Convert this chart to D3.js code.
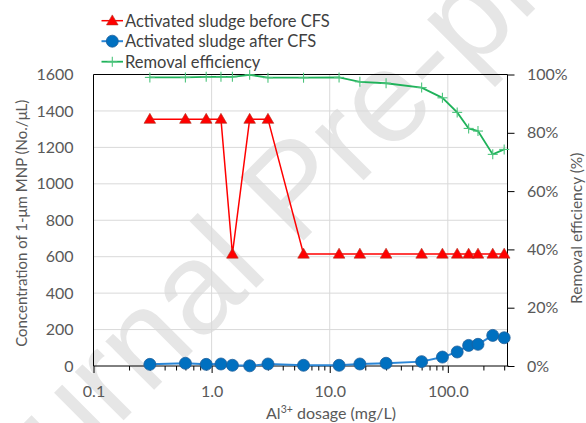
<!DOCTYPE html>
<html>
<head>
<meta charset="utf-8">
<script src="https://cdn.jsdelivr.net/npm/d3@7"></script>
<style>
  body { margin: 0; background: #fff; }
  svg { display: block; }
  text { font-family: Lato, "Open Sans", sans-serif; }
</style>
</head>
<body>
<svg id="chart" width="586" height="423"></svg>
<script>
// Al3+ dosage (mg/L)
const dosage = [0.3, 0.6, 0.9, 1.2, 1.5, 2.1, 3, 6, 12, 18, 30, 60, 90, 120, 150, 180, 240, 300];
// 1-µm MNP concentration (No./µL)
const beforeCFS = [1355, 1355, 1355, 1355, 615, 1355, 1355, 615, 615, 615, 615, 615, 615, 615, 615, 615, 615, 615];
const afterCFS = [9, 15, 9, 11, 4, 1, 11, 4, 4, 11, 15, 24, 49, 77, 113, 119, 168, 155];
// Removal efficiency (%)
const efficiency = [99.0, 99.0, 99.2, 99.2, 99.2, 99.9, 98.9, 98.9, 99.0, 97.5, 97.0, 95.5, 92.0, 87.0, 81.5, 80.6, 72.6, 74.3];

const xMajorTicks = [0.1, 1, 10, 100];
const xMinorTicks = [0.2,0.3,0.4,0.5,0.6,0.7,0.8,0.9, 2,3,4,5,6,7,8,9, 20,30,40,50,60,70,80,90, 200,300];
const yLeftTicks = [0, 200, 400, 600, 800, 1000, 1200, 1400, 1600];
const yRightTicks = [0, 20, 40, 60, 80, 100];

const legendLabels = ["Activated sludge before CFS", "Activated sludge after CFS", "Removal efficiency"];

const COL_RED = "#ff0000", COL_BLUE = "#0070c0", COL_BLUELINE = "#2a86d6", COL_GREEN = "#1fb25a";
const TXT = "#595959";

const svg = d3.select("#chart");
const plot = { left: 93.5, right: 507.5, top: 74.5, bottom: 366 };

const x = d3.scaleLog().domain([0.1, 320]).range([plot.left, plot.right]);
const y = d3.scaleLinear().domain([0, 1600]).range([plot.bottom, plot.top]);
const yR = d3.scaleLinear().domain([0, 100]).range([plot.bottom, plot.top]);

// watermark
svg.append("text")
  .attr("transform", "translate(-31,575) rotate(-45)")
  .style("font-family", "'Liberation Sans', Arial, sans-serif")
  .attr("font-size", 130)
  .attr("fill", "#e6e6e6")
  .text("Journal Pre-proof");

// gridlines
const grid = svg.append("g");
grid.selectAll("line.h").data(yLeftTicks.filter(v => v > 0 && v < 1600)).join("line")
  .attr("x1", plot.left).attr("x2", plot.right)
  .attr("y1", d => y(d)).attr("y2", d => y(d))
  .attr("stroke", "#d9d9d9").attr("stroke-width", 1);
grid.selectAll("line.v").data([1, 10, 100]).join("line")
  .attr("x1", d => x(d)).attr("x2", d => x(d))
  .attr("y1", plot.top).attr("y2", plot.bottom)
  .attr("stroke", "#d9d9d9").attr("stroke-width", 1);

// axes
function styleAxis(g) {
  g.select(".domain").remove();
  g.selectAll("text").attr("fill", TXT).attr("font-size", 16).style("font-family", "Lato, 'Open Sans', sans-serif");
  g.selectAll("line").attr("stroke", "#000");
}

svg.append("g").attr("transform", `translate(0,${plot.bottom})`)
  .call(d3.axisBottom(x).tickValues(xMinorTicks).tickSize(4.5).tickFormat(""))
  .call(styleAxis);
svg.append("g").attr("transform", `translate(0,${plot.bottom})`)
  .call(d3.axisBottom(x).tickValues(xMajorTicks).tickSize(7).tickPadding(13).tickFormat(d3.format(".1f")))
  .call(styleAxis);

svg.append("g").attr("transform", `translate(${plot.left},0)`)
  .call(d3.axisLeft(y).tickValues(yLeftTicks).tickSize(0).tickPadding(20).tickFormat(d3.format("d")))
  .call(styleAxis);

svg.append("g").attr("transform", `translate(${plot.right},0)`)
  .call(d3.axisRight(yR).tickValues(yRightTicks).tickSize(7).tickPadding(12.5).tickFormat(d => d + "%"))
  .call(styleAxis);

// frame lines
const frame = svg.append("g").attr("stroke", "#000").attr("stroke-width", 1);
frame.append("line").attr("x1", plot.left).attr("x2", plot.right + 1).attr("y1", plot.bottom).attr("y2", plot.bottom);
frame.append("line").attr("x1", plot.left).attr("x2", plot.right).attr("y1", plot.top).attr("y2", plot.top);
frame.append("line").attr("x1", plot.left).attr("x2", plot.left).attr("y1", plot.top).attr("y2", plot.bottom);
frame.append("line").attr("x1", plot.right).attr("x2", plot.right).attr("y1", plot.top).attr("y2", plot.bottom);

// axis titles
svg.append("text")
  .attr("transform", `translate(27,${(plot.top + plot.bottom) / 2 + 3}) rotate(-90)`)
  .attr("text-anchor", "middle").attr("font-size", 15).attr("fill", TXT)
  .text("Concentration of 1-μm MNP (No./μL)");
svg.append("text")
  .attr("transform", `translate(582,${(plot.top + plot.bottom) / 2 + 8}) rotate(-90)`)
  .attr("text-anchor", "middle").attr("font-size", 15.5).attr("fill", TXT)
  .text("Removal efficiency (%)");
const xt = svg.append("text")
  .attr("x", 331).attr("y", 419).attr("text-anchor", "middle")
  .attr("font-size", 16).attr("fill", TXT);
xt.append("tspan").text("Al");
xt.append("tspan").attr("font-size", 10.5).attr("dy", -6).text("3+");
xt.append("tspan").attr("dy", 6).text(" dosage (mg/L)");

// series data
const rows = dosage.map((d, i) => ({ d, before: beforeCFS[i], after: afterCFS[i], eff: efficiency[i] }));

const triPath = "M0,-5.8L5.8,4.2L-5.8,4.2Z";
function plus(g, cx, cy) {
  g.append("line").attr("x1", cx - 5).attr("x2", cx + 5).attr("y1", cy).attr("y2", cy);
  g.append("line").attr("x1", cx).attr("x2", cx).attr("y1", cy - 5).attr("y2", cy + 5);
}

// before CFS
svg.append("path").datum(rows)
  .attr("d", d3.line().x(r => x(r.d)).y(r => y(r.before)))
  .attr("fill", "none").attr("stroke", COL_RED).attr("stroke-width", 1.5);
svg.append("g").selectAll("path").data(rows).join("path")
  .attr("d", triPath)
  .attr("transform", r => `translate(${x(r.d)},${y(r.before)})`)
  .attr("fill", COL_RED).attr("stroke", "#b03020").attr("stroke-width", 0.6);

// after CFS
svg.append("path").datum(rows)
  .attr("d", d3.line().x(r => x(r.d)).y(r => y(r.after)))
  .attr("fill", "none").attr("stroke", COL_BLUELINE).attr("stroke-width", 2);
svg.append("g").selectAll("circle").data(rows).join("circle")
  .attr("cx", r => x(r.d)).attr("cy", r => y(r.after)).attr("r", 6)
  .attr("fill", COL_BLUE).attr("stroke", "#1f5f9a").attr("stroke-width", 0.8);

// removal efficiency (secondary axis)
svg.append("path").datum(rows)
  .attr("d", d3.line().x(r => x(r.d)).y(r => yR(r.eff)))
  .attr("fill", "none").attr("stroke", COL_GREEN).attr("stroke-width", 1.8);
const pg = svg.append("g").attr("stroke", "#4cc47c").attr("stroke-width", 1.1);
rows.forEach(r => plus(pg, x(r.d), yR(r.eff)));

// legend
const legendY = [20.7, 41.2, 61.7];
const lg = svg.append("g");
lg.append("line").attr("x1", 101.5).attr("x2", 123).attr("y1", legendY[0]).attr("y2", legendY[0]).attr("stroke", COL_RED).attr("stroke-width", 1.5);
lg.append("path").attr("d", triPath).attr("transform", `translate(112.3,${legendY[0]})`).attr("fill", COL_RED).attr("stroke", "#b03020").attr("stroke-width", 0.6);
lg.append("line").attr("x1", 101.5).attr("x2", 123).attr("y1", legendY[1]).attr("y2", legendY[1]).attr("stroke", COL_BLUELINE).attr("stroke-width", 2);
lg.append("circle").attr("cx", 112.3).attr("cy", legendY[1]).attr("r", 6).attr("fill", COL_BLUE).attr("stroke", "#1f5f9a").attr("stroke-width", 0.8);
lg.append("line").attr("x1", 101.5).attr("x2", 123).attr("y1", legendY[2]).attr("y2", legendY[2]).attr("stroke", COL_GREEN).attr("stroke-width", 1.8);
const lp = lg.append("g").attr("stroke", "#4cc47c").attr("stroke-width", 1.1);
plus(lp, 112.3, legendY[2]);
lg.selectAll("text").data(legendLabels).join("text")
  .attr("x", 125).attr("y", (d, i) => legendY[i]).attr("dy", "0.36em")
  .attr("font-size", 16.5).attr("fill", "#404040")
  .text(d => d);
</script>
</body>
</html>
